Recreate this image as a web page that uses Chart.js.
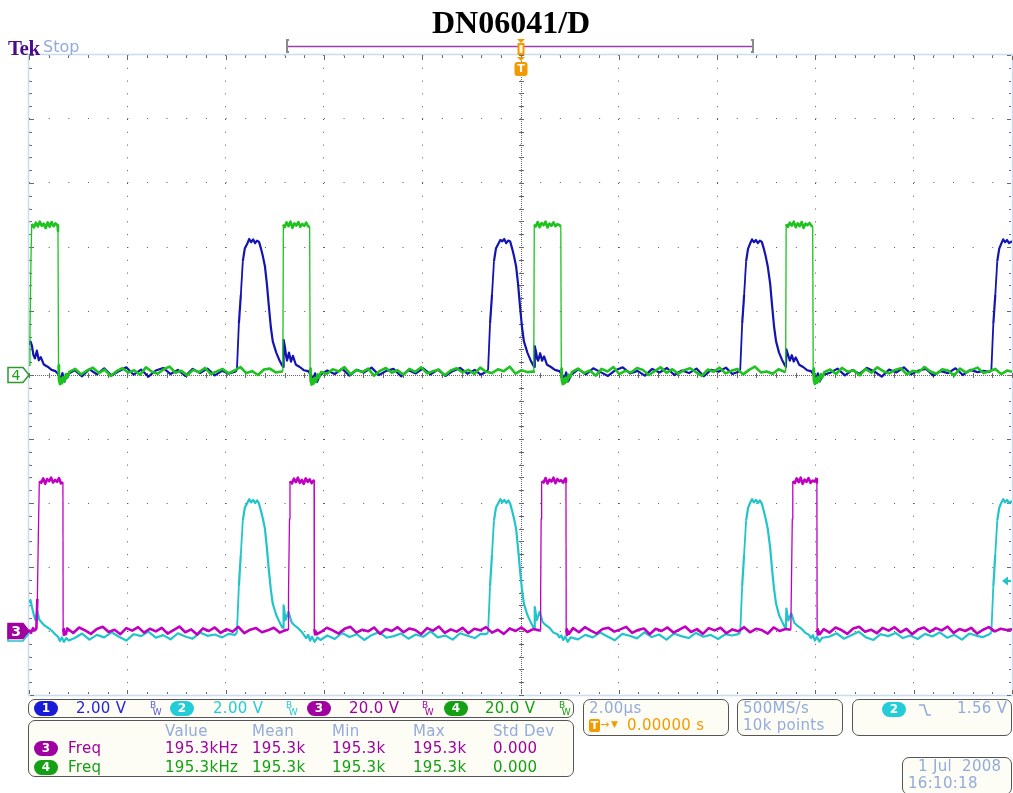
<!DOCTYPE html>
<html><head><meta charset="utf-8">
<script src="https://cdn.jsdelivr.net/npm/chart.js@4.4.1/dist/chart.umd.min.js"></script>
<style>
html,body{margin:0;padding:0;background:#fff;}
#wrap{position:relative;width:1013px;height:793px;overflow:hidden;background:#fff;font-family:"DejaVu Sans",sans-serif;}
#c{position:absolute;left:0;top:0;}
.t{position:absolute;white-space:pre;line-height:1;font-size:15px;font-family:"DejaVu Sans",sans-serif;letter-spacing:0.3px;}
.box{position:absolute;border:1.5px solid #555;border-radius:7px;background:#fdfdf6;box-sizing:border-box;}
.badge{position:absolute;width:24px;height:15px;border-radius:8px;color:#fff;font:bold 12px "DejaVu Sans",sans-serif;text-align:center;line-height:15px;}
.bw{position:absolute;font-size:9px;line-height:7px;font-family:"DejaVu Sans",sans-serif;}
.lbl{color:#93abdb;}
.pur{color:#a000a0;}
.grn{color:#14a014;}
</style></head>
<body>
<div id="wrap">
<canvas id="c" width="1013" height="793"></canvas>

<div class="t" style="left:432px;top:4px;font:bold 32px 'Liberation Serif',serif;color:#000;letter-spacing:0;">DN06041/D</div>
<div class="t" style="left:8px;top:36px;font:bold 21px 'Liberation Serif',serif;color:#4b0c8c;letter-spacing:-0.5px;">Tek</div>
<div class="t lbl" style="left:43px;top:39px;font-size:16px;letter-spacing:0;">Stop</div>

<!-- channel readout -->
<div class="box" style="left:28px;top:699px;width:546px;height:19px;"></div>
<div class="badge" style="left:34px;top:701px;background:#1a1ad6;">1</div>
<div class="t" style="left:76px;top:701px;color:#2424e0;">2.00 V</div>
<div class="bw" style="left:150px;top:702px;color:#5a5ad8;">B<br>&nbsp;W</div>
<div class="badge" style="left:170px;top:701px;background:#22cdd8;">2</div>
<div class="t" style="left:213px;top:701px;color:#22ccd8;">2.00 V</div>
<div class="bw" style="left:286px;top:702px;color:#22ccd8;">B<br>&nbsp;W</div>
<div class="badge" style="left:307px;top:701px;background:#a000a0;">3</div>
<div class="t pur" style="left:349px;top:701px;">20.0 V</div>
<div class="bw pur" style="left:422px;top:702px;">B<br>&nbsp;W</div>
<div class="badge" style="left:444px;top:701px;background:#14a014;">4</div>
<div class="t grn" style="left:485px;top:701px;">20.0 V</div>
<div class="bw grn" style="left:559px;top:702px;">B<br>&nbsp;W</div>

<!-- measurements -->
<div class="box" style="left:28px;top:720px;width:546px;height:57px;"></div>
<div class="t lbl" style="left:165px;top:724px;">Value</div>
<div class="t lbl" style="left:252px;top:724px;">Mean</div>
<div class="t lbl" style="left:332px;top:724px;">Min</div>
<div class="t lbl" style="left:413px;top:724px;">Max</div>
<div class="t lbl" style="left:493px;top:724px;">Std Dev</div>
<div class="badge" style="left:34px;top:741px;background:#a000a0;">3</div>
<div class="t pur" style="left:68px;top:741px;">Freq</div>
<div class="t pur" style="left:165px;top:741px;">195.3kHz</div>
<div class="t pur" style="left:252px;top:741px;">195.3k</div>
<div class="t pur" style="left:332px;top:741px;">195.3k</div>
<div class="t pur" style="left:413px;top:741px;">195.3k</div>
<div class="t pur" style="left:493px;top:741px;">0.000</div>
<div class="badge" style="left:34px;top:760px;background:#14a014;">4</div>
<div class="t grn" style="left:68px;top:760px;">Freq</div>
<div class="t grn" style="left:165px;top:760px;">195.3kHz</div>
<div class="t grn" style="left:252px;top:760px;">195.3k</div>
<div class="t grn" style="left:332px;top:760px;">195.3k</div>
<div class="t grn" style="left:413px;top:760px;">195.3k</div>
<div class="t grn" style="left:493px;top:760px;">0.000</div>

<!-- timebase -->
<div class="box" style="left:583px;top:699px;width:146px;height:37px;"></div>
<div class="t lbl" style="left:589px;top:701px;">2.00µs</div>
<div style="position:absolute;left:589px;top:719px;width:11px;height:13px;background:#f39a00;border-radius:2px;color:#fff;font:bold 11px 'DejaVu Sans',sans-serif;text-align:center;line-height:13px;">T</div>
<div class="t" style="left:600px;top:719px;color:#f39a00;font-size:11px;">→</div>
<div class="t" style="left:611px;top:720px;color:#f39a00;font-size:9px;">▼</div>
<div class="t" style="left:627px;top:718px;color:#f39a00;">0.00000 s</div>

<!-- acquisition -->
<div class="box" style="left:737px;top:699px;width:106px;height:37px;"></div>
<div class="t lbl" style="left:743px;top:701px;">500MS/s</div>
<div class="t lbl" style="left:743px;top:718px;">10k points</div>

<!-- trigger -->
<div class="box" style="left:852px;top:699px;width:160px;height:37px;"></div>
<div class="badge" style="left:882px;top:702px;background:#22cdd8;">2</div>
<svg style="position:absolute;left:918px;top:703px;" width="14" height="14"><path d="M1 2 H6 L9 12 H13" fill="none" stroke="#93abdb" stroke-width="1.6"/></svg>
<div class="t lbl" style="left:957px;top:701px;">1.56 V</div>

<!-- date -->
<div class="box" style="left:902px;top:757px;width:110px;height:38px;"></div>
<div class="t lbl" style="left:918px;top:759px;">1 Jul  2008</div>
<div class="t lbl" style="left:908px;top:776px;">16:10:18</div>
</div>

<script>
// ---- scope settings ----
const timePerDiv = 2;            // µs / div
const divisions = 10;
const ch1VoltsPerDiv = 2, ch2VoltsPerDiv = 2, ch3VoltsPerDiv = 20, ch4VoltsPerDiv = 20;
const ch1GroundDiv = 0, ch2GroundDiv = -4, ch3GroundDiv = -4, ch4GroundDiv = 0;
const trigLevelCh2 = 1.56;       // V

// ---- traces: [time µs, volts] ----
const ch1Trace = [
[-10.00,0.95],[-9.97,1.05],[-9.94,0.92],[-9.91,0.62],[-9.88,0.52],[-9.84,0.76],[-9.80,0.46],[-9.76,0.56],[-9.70,0.33],[-9.62,0.26],[-9.54,0.16],[-9.46,0.12],[-9.40,0.02],[-9.36,-0.14],[-9.32,0.06],[-9.28,-0.21],[-9.22,0.02],
[-9.07,0.15],[-8.92,-0.04],[-8.77,0.18],[-8.62,0.02],[-8.47,0.21],[-8.32,-0.02],[-8.17,0.12],[-8.02,0.24],[-7.87,0.01],[-7.72,0.17],[-7.57,-0.05],[-7.42,0.14],[-7.27,0.22],[-7.12,0.03],[-6.97,0.16],[-6.82,-0.03],[-6.67,0.19],[-6.52,0.06],[-6.37,0.2],[-6.22,-0.01],[-6.07,0.13],[-5.94,0.04],[-5.81,0.1],
[-5.77,0.15],[-5.73,1.6],[-5.69,2.5],[-5.65,3.55],[-5.61,3.95],[-5.56,4.1],[-5.52,4.25],[-5.48,4.15],[-5.44,4.24],[-5.40,4.12],[-5.36,4.2],[-5.32,4.16],[-5.28,3.95],[-5.24,3.7],[-5.20,3.4],[-5.16,2.85],[-5.12,2.15],[-5.08,1.5],[-5.04,1.05],[-4.97,0.7],[-4.91,0.48],[-4.85,0.3],[-4.83,0.25],[-4.82,1.1],[-4.79,0.85],[-4.77,0.6],[-4.75,0.45],[-4.71,0.7],[-4.67,0.42],[-4.63,0.6],[-4.57,0.32],[-4.49,0.25],[-4.41,0.15],[-4.32,0.12],[-4.26,0.0],[-4.22,-0.15],[-4.18,0.05],[-4.14,-0.22],[-4.08,0.0],
[-3.93,0.14],[-3.78,0.03],[-3.63,0.2],[-3.48,-0.02],[-3.33,0.16],[-3.18,0.08],[-3.03,0.23],[-2.88,0.0],[-2.73,0.13],[-2.58,0.19],[-2.43,-0.04],[-2.28,0.15],[-2.13,0.05],[-1.98,0.21],[-1.83,0.02],[-1.68,0.17],[-1.53,-0.03],[-1.38,0.12],[-1.23,0.22],[-1.08,0.04],[-0.93,0.16],[-0.81,0.01],[-0.70,0.1],
[-0.66,0.15],[-0.62,1.6],[-0.58,2.5],[-0.54,3.55],[-0.50,3.95],[-0.45,4.1],[-0.41,4.22],[-0.37,4.18],[-0.33,4.25],[-0.29,4.12],[-0.25,4.2],[-0.21,4.17],[-0.17,3.95],[-0.13,3.7],[-0.09,3.4],[-0.05,2.85],[-0.01,2.15],[0.03,1.5],[0.07,1.05],[0.14,0.7],[0.20,0.48],[0.26,0.3],[0.28,0.25],[0.29,0.9],[0.32,0.7],[0.34,0.5],[0.36,0.45],[0.40,0.68],[0.44,0.45],[0.48,0.58],[0.54,0.32],[0.62,0.25],[0.70,0.16],[0.79,0.12],[0.85,0.0],[0.89,-0.12],[0.93,0.08],[0.97,-0.2],[1.03,0.0],
[1.18,0.18],[1.33,0.02],[1.48,0.21],[1.63,0.09],[1.78,-0.03],[1.93,0.15],[2.08,0.24],[2.23,0.05],[2.38,0.13],[2.53,-0.02],[2.68,0.19],[2.83,0.08],[2.98,0.22],[3.13,0.0],[3.28,0.14],[3.43,0.06],[3.58,0.2],[3.73,-0.04],[3.88,0.16],[4.03,0.1],[4.18,0.23],[4.31,0.03],[4.43,0.1],
[4.47,0.15],[4.51,1.6],[4.55,2.5],[4.59,3.55],[4.63,3.95],[4.67,4.1],[4.71,4.24],[4.75,4.15],[4.79,4.22],[4.83,4.12],[4.87,4.2],[4.91,4.16],[4.95,3.95],[4.99,3.7],[5.03,3.4],[5.08,2.85],[5.12,2.15],[5.16,1.5],[5.20,1.05],[5.26,0.7],[5.32,0.48],[5.38,0.3],[5.40,0.25],[5.41,0.8],[5.44,0.65],[5.46,0.55],[5.48,0.45],[5.52,0.62],[5.56,0.42],[5.60,0.55],[5.67,0.32],[5.75,0.25],[5.83,0.15],[5.91,0.12],[5.97,0.0],[6.01,-0.15],[6.05,0.05],[6.09,-0.2],[6.15,0.0],
[6.30,0.07],[6.45,0.2],[6.60,-0.01],[6.75,0.15],[6.90,0.04],[7.05,0.22],[7.20,0.11],[7.35,-0.05],[7.50,0.17],[7.65,0.08],[7.80,0.24],[7.95,0.02],[8.10,0.14],[8.25,0.19],[8.40,-0.02],[8.55,0.12],[8.70,0.06],[8.85,0.21],[9.00,0.0],[9.15,0.16],[9.30,0.09],[9.42,0.13],[9.54,0.1],
[9.58,0.15],[9.62,1.6],[9.66,2.5],[9.70,3.55],[9.74,3.95],[9.78,4.1],[9.82,4.24],[9.86,4.15],[9.90,4.22],[9.94,4.12],[10.00,4.18]
];

const ch2Trace = [
[-10.00,0.88],[-9.97,0.97],[-9.94,0.75],[-9.90,0.5],[-9.87,0.34],[-9.83,0.62],[-9.79,0.35],[-9.75,0.28],[-9.69,0.18],[-9.61,0.1],[-9.53,0.0],[-9.47,-0.1],[-9.41,-0.18],[-9.37,-0.31],[-9.33,-0.2],[-9.29,-0.34],[-9.24,-0.22],[-9.19,-0.3],
[-9.07,-0.22],[-8.92,-0.08],[-8.77,-0.27],[-8.62,-0.12],[-8.47,-0.2],[-8.32,-0.04],[-8.17,-0.18],[-8.02,-0.3],[-7.87,-0.1],[-7.72,-0.16],[-7.57,-0.02],[-7.42,-0.21],[-7.27,-0.13],[-7.12,-0.26],[-6.97,-0.07],[-6.82,-0.17],[-6.67,-0.24],[-6.52,-0.05],[-6.37,-0.15],[-6.22,-0.11],[-6.07,-0.2],[-5.94,-0.09],[-5.81,-0.12],
[-5.77,-0.05],[-5.73,1.4],[-5.69,2.4],[-5.65,3.45],[-5.61,3.85],[-5.56,4.0],[-5.52,4.12],[-5.48,4.02],[-5.44,4.1],[-5.40,4.0],[-5.36,4.08],[-5.32,3.98],[-5.28,3.75],[-5.24,3.5],[-5.20,3.2],[-5.16,2.6],[-5.12,1.9],[-5.08,1.3],[-5.04,0.85],[-4.97,0.5],[-4.91,0.3],[-4.85,0.12],[-4.83,0.1],[-4.82,0.8],[-4.78,0.35],[-4.72,0.6],[-4.66,0.28],[-4.60,0.18],[-4.52,0.08],[-4.44,-0.05],[-4.36,-0.22],[-4.32,-0.12],[-4.28,-0.3],[-4.24,-0.18],[-4.19,-0.34],[-4.13,-0.2],[-4.07,-0.28],
[-3.93,-0.14],[-3.78,-0.25],[-3.63,-0.06],[-3.48,-0.19],[-3.33,-0.1],[-3.18,-0.28],[-3.03,-0.13],[-2.88,-0.03],[-2.73,-0.21],[-2.58,-0.16],[-2.43,-0.08],[-2.28,-0.24],[-2.13,-0.11],[-1.98,-0.18],[-1.83,-0.01],[-1.68,-0.2],[-1.53,-0.14],[-1.38,-0.27],[-1.23,-0.07],[-1.08,-0.15],[-0.93,-0.22],[-0.81,-0.09],[-0.70,-0.1],
[-0.66,-0.05],[-0.62,1.4],[-0.58,2.4],[-0.54,3.45],[-0.50,3.85],[-0.45,4.0],[-0.41,4.12],[-0.37,4.02],[-0.33,4.1],[-0.29,4.0],[-0.25,4.08],[-0.21,3.98],[-0.17,3.75],[-0.13,3.5],[-0.09,3.2],[-0.05,2.6],[-0.01,1.9],[0.03,1.3],[0.07,0.85],[0.14,0.5],[0.20,0.3],[0.26,0.12],[0.28,0.1],[0.29,0.75],[0.33,0.34],[0.39,0.6],[0.45,0.28],[0.51,0.19],[0.59,0.1],[0.67,-0.05],[0.75,-0.1],[0.79,-0.2],[0.83,-0.14],[0.87,-0.28],[0.91,-0.17],[0.96,-0.34],[1.02,-0.2],
[1.17,-0.26],[1.32,-0.12],[1.47,-0.2],[1.62,-0.05],[1.77,-0.17],[1.92,-0.29],[2.07,-0.09],[2.22,-0.15],[2.37,-0.23],[2.52,-0.04],[2.67,-0.19],[2.82,-0.11],[2.97,-0.27],[3.12,-0.08],[3.27,-0.16],[3.42,-0.22],[3.57,-0.06],[3.72,-0.18],[3.87,-0.12],[4.02,-0.25],[4.17,-0.1],[4.30,-0.14],[4.43,-0.1],
[4.47,-0.05],[4.51,1.4],[4.55,2.4],[4.59,3.45],[4.63,3.85],[4.67,4.0],[4.71,4.12],[4.75,4.02],[4.79,4.1],[4.83,4.0],[4.87,4.08],[4.91,3.98],[4.95,3.75],[4.99,3.5],[5.03,3.2],[5.08,2.6],[5.12,1.9],[5.16,1.3],[5.20,0.85],[5.26,0.5],[5.32,0.3],[5.38,0.12],[5.40,0.1],[5.41,0.7],[5.45,0.33],[5.51,0.55],[5.57,0.26],[5.63,0.17],[5.71,0.08],[5.79,-0.05],[5.87,-0.12],[5.91,-0.22],[5.95,-0.13],[5.99,-0.3],[6.03,-0.18],[6.08,-0.33],[6.14,-0.21],
[6.28,-0.18],[6.43,-0.07],[6.58,-0.24],[6.73,-0.13],[6.88,-0.02],[7.03,-0.2],[7.18,-0.28],[7.33,-0.1],[7.48,-0.16],[7.63,-0.06],[7.78,-0.22],[7.93,-0.14],[8.08,-0.25],[8.23,-0.09],[8.38,-0.17],[8.53,-0.04],[8.68,-0.21],[8.83,-0.12],[8.98,-0.27],[9.13,-0.08],[9.28,-0.15],[9.41,-0.19],[9.54,-0.1],
[9.58,-0.05],[9.62,1.4],[9.66,2.4],[9.70,3.45],[9.74,3.85],[9.78,4.0],[9.82,4.12],[9.86,4.02],[9.90,4.1],[9.94,4.0],[10.00,4.06]
];

const ch3Trace = [
[-10.00,0.4],[-9.96,-0.6],[-9.92,0.9],[-9.88,0.2],[-9.85,0.8],[-9.83,10.0],[-9.81,30.0],[-9.79,46.8],
[-9.75,46.3],[-9.71,47.7],[-9.67,46.0],[-9.63,47.5],[-9.59,46.8],[-9.55,47.9],[-9.51,46.4],[-9.47,47.2],[-9.43,46.6],[-9.39,47.8],[-9.35,46.1],
[-9.31,46.5],[-9.305,0.6],[-9.29,-1.2],[-9.27,-0.3],[-9.25,-1.0],
[-9.22,0.8],[-9.10,-0.6],[-8.98,1.1],[-8.86,0.2],[-8.74,-0.9],[-8.62,0.6],[-8.50,1.3],[-8.38,-0.3],[-8.26,0.4],[-8.14,-1.0],[-8.02,0.9],[-7.90,0.1],[-7.78,1.2],[-7.66,-0.5],[-7.54,0.7],[-7.42,-0.1],[-7.30,1.0],[-7.18,-0.8],[-7.06,0.3],[-6.94,1.4],[-6.82,-0.4],[-6.70,0.5],[-6.58,-1.1],[-6.46,0.8],[-6.34,0.0],[-6.22,1.1],[-6.10,-0.6],[-5.98,0.6],[-5.86,-0.2],[-5.74,1.3],[-5.62,-0.7],[-5.50,0.4],[-5.38,0.9],[-5.26,-0.4],[-5.14,0.2],[-5.02,1.0],[-4.90,-0.5],[-4.78,0.3],
[-4.73,0.4],[-4.72,12.0],[-4.70,35.0],[-4.69,46.8],
[-4.65,46.1],[-4.61,47.6],[-4.57,46.5],[-4.53,47.9],[-4.49,46.3],[-4.45,47.2],[-4.41,46.0],[-4.37,47.7],[-4.33,46.6],[-4.29,47.4],[-4.25,46.2],[-4.21,47.0],
[-4.20,46.5],[-4.195,0.6],[-4.18,-1.1],[-4.16,-0.2],[-4.14,-1.0],
[-4.06,-0.3],[-3.94,1.0],[-3.82,0.2],[-3.70,-0.8],[-3.58,0.7],[-3.46,1.3],[-3.34,-0.5],[-3.22,0.4],[-3.10,-0.1],[-2.98,1.1],[-2.86,-0.9],[-2.74,0.6],[-2.62,0.0],[-2.50,1.2],[-2.38,-0.4],[-2.26,0.8],[-2.14,0.3],[-2.02,-1.0],[-1.90,0.9],[-1.78,0.1],[-1.66,1.4],[-1.54,-0.6],[-1.42,0.5],[-1.30,-0.2],[-1.18,1.0],[-1.06,-0.7],[-0.94,0.7],[-0.82,0.2],[-0.70,1.2],[-0.58,-0.5],[-0.46,0.4],[-0.34,-0.9],[-0.22,0.8],[-0.10,0.0],[0.02,1.1],[0.14,-0.3],[0.26,0.6],[0.38,0.2],
[0.40,0.3],[0.41,12.0],[0.42,35.0],[0.43,46.8],
[0.47,46.4],[0.51,47.8],[0.55,46.1],[0.59,47.3],[0.63,46.7],[0.67,47.9],[0.71,46.2],[0.75,47.5],[0.79,46.8],[0.83,47.1],[0.87,46.4],[0.91,47.6],
[0.925,46.6],[0.93,0.5],[0.945,-1.2],[0.965,-0.1],[0.985,-0.9],
[1.07,0.9],[1.19,-0.4],[1.31,1.2],[1.43,0.1],[1.55,-0.8],[1.67,0.6],[1.79,1.0],[1.91,-0.2],[2.03,0.5],[2.15,1.3],[2.27,-0.6],[2.39,0.3],[2.51,0.8],[2.63,-1.0],[2.75,0.7],[2.87,0.0],[2.99,1.1],[3.11,-0.5],[3.23,0.4],[3.35,1.4],[3.47,-0.3],[3.59,0.6],[3.71,-0.9],[3.83,0.9],[3.95,0.2],[4.07,1.0],[4.19,-0.7],[4.31,0.5],[4.43,-0.1],[4.55,1.2],[4.67,-0.4],[4.79,0.7],[4.91,0.3],[5.03,-0.8],[5.15,1.1],[5.27,0.0],[5.39,0.6],
[5.50,0.4],[5.51,12.0],[5.53,35.0],[5.54,46.8],
[5.58,46.2],[5.62,47.7],[5.66,46.5],[5.70,47.9],[5.74,46.0],[5.78,47.3],[5.82,46.6],[5.86,47.8],[5.90,46.3],[5.94,47.0],[5.98,46.7],[6.02,47.5],
[6.03,46.4],[6.035,0.5],[6.05,-1.1],[6.07,-0.2],[6.09,-1.0],
[6.17,0.6],[6.29,-0.5],[6.41,1.1],[6.53,0.3],[6.65,-0.9],[6.77,0.8],[6.89,1.3],[7.01,-0.2],[7.13,0.4],[7.25,-0.7],[7.37,1.0],[7.49,0.1],[7.61,1.2],[7.73,-0.4],[7.85,0.7],[7.97,-1.0],[8.09,0.5],[8.21,1.1],[8.33,-0.3],[8.45,0.9],[8.57,0.2],[8.69,1.4],[8.81,-0.6],[8.93,0.6],[9.05,0.0],[9.17,1.0],[9.29,-0.8],[9.41,0.4],[9.53,1.2],[9.65,-0.1],[9.77,0.7],[9.89,0.3],[10.00,0.5]
];

const ch4Trace = [
[-10.00,3.0],[-9.98,14.0],[-9.96,36.0],[-9.945,47.2],
[-9.90,46.1],[-9.86,47.6],[-9.82,46.4],[-9.78,47.9],[-9.74,46.6],[-9.70,47.3],[-9.66,45.9],[-9.62,47.7],[-9.58,46.3],[-9.54,47.8],[-9.50,46.5],[-9.46,47.4],[-9.42,46.8],
[-9.41,45.0],[-9.40,3.0],[-9.39,-1.6],[-9.37,-2.9],[-9.35,-1.1],[-9.33,-2.6],[-9.31,-0.7],[-9.28,-2.0],[-9.25,0.3],[-9.22,-0.8],[-9.18,1.0],
[-9.06,1.9],[-8.94,0.2],[-8.82,1.4],[-8.70,2.3],[-8.58,0.6],[-8.46,1.7],[-8.34,-0.3],[-8.22,1.2],[-8.10,2.1],[-7.98,0.8],[-7.86,1.5],[-7.74,0.1],[-7.62,2.4],[-7.50,1.0],[-7.38,0.4],[-7.26,1.8],[-7.14,2.6],[-7.02,0.7],[-6.90,1.3],[-6.78,-0.1],[-6.66,1.6],[-6.54,0.9],[-6.42,2.2],[-6.30,0.3],[-6.18,1.1],[-6.06,1.9],[-5.94,0.5],[-5.82,1.4],[-5.70,2.5],[-5.58,0.6],[-5.46,1.2],[-5.34,0.0],[-5.22,1.7],[-5.10,2.0],[-4.98,0.8],[-4.86,1.1],
[-4.835,1.2],[-4.825,47.0],
[-4.80,46.2],[-4.76,47.7],[-4.72,46.5],[-4.68,47.9],[-4.64,46.0],[-4.60,47.4],[-4.56,46.7],[-4.52,47.8],[-4.48,46.3],[-4.44,47.2],[-4.40,46.6],[-4.36,47.6],[-4.32,46.4],
[-4.29,46.5],[-4.28,2.0],[-4.27,-1.8],[-4.25,-3.0],[-4.23,-1.3],[-4.21,-2.7],[-4.19,-0.9],[-4.16,-2.2],[-4.13,0.2],[-4.10,-0.9],[-4.06,0.9],
[-3.94,0.4],[-3.82,1.8],[-3.70,1.1],[-3.58,2.5],[-3.46,0.2],[-3.34,1.6],[-3.22,0.9],[-3.10,2.0],[-2.98,-0.2],[-2.86,1.3],[-2.74,2.2],[-2.62,0.7],[-2.50,1.5],[-2.38,0.1],[-2.26,1.9],[-2.14,1.0],[-2.02,2.4],[-1.90,0.5],[-1.78,1.2],[-1.66,1.7],[-1.54,-0.1],[-1.42,1.4],[-1.30,2.1],[-1.18,0.8],[-1.06,1.6],[-0.94,0.3],[-0.82,2.3],[-0.70,1.0],[-0.58,0.6],[-0.46,1.8],[-0.34,1.2],[-0.22,2.6],[-0.10,0.4],[0.02,1.5],[0.14,0.9],[0.26,1.1],
[0.27,1.0],[0.28,47.0],
[0.31,46.4],[0.35,47.8],[0.39,46.2],[0.43,47.5],[0.47,46.8],[0.51,47.9],[0.55,46.1],[0.59,47.3],[0.63,46.6],[0.67,47.7],[0.71,46.5],[0.75,47.1],[0.79,46.9],
[0.82,46.4],[0.83,2.0],[0.84,-1.7],[0.86,-2.9],[0.88,-1.2],[0.90,-2.6],[0.92,-0.8],[0.95,-2.1],[0.98,0.1],[1.01,-0.7],[1.05,1.0],
[1.17,2.0],[1.29,0.6],[1.41,1.4],[1.53,-0.2],[1.65,1.9],[1.77,1.1],[1.89,2.5],[2.01,0.3],[2.13,1.3],[2.25,0.8],[2.37,2.2],[2.49,1.6],[2.61,0.0],[2.73,1.2],[2.85,2.4],[2.97,0.7],[3.09,1.8],[3.21,0.4],[3.33,1.5],[3.45,2.1],[3.57,0.9],[3.69,-0.3],[3.81,1.7],[3.93,1.0],[4.05,2.3],[4.17,0.5],[4.29,1.3],[4.41,1.9],[4.53,0.2],[4.65,1.6],[4.77,2.6],[4.89,0.8],[5.01,1.1],[5.13,0.4],[5.25,1.8],[5.37,1.0],
[5.395,1.1],[5.405,47.1],
[5.44,46.3],[5.48,47.6],[5.52,46.7],[5.56,47.9],[5.60,46.2],[5.64,47.4],[5.68,46.5],[5.72,47.8],[5.76,46.0],[5.80,47.3],[5.84,46.8],[5.88,47.5],[5.92,46.6],
[5.945,46.5],[5.955,2.0],[5.97,-1.9],[5.99,-2.8],[6.01,-1.0],[6.03,-2.5],[6.05,-0.6],[6.08,-2.0],[6.11,0.3],[6.14,-0.8],[6.18,0.9],
[6.30,1.7],[6.42,0.3],[6.54,2.2],[6.66,1.0],[6.78,1.5],[6.90,-0.1],[7.02,1.9],[7.14,0.7],[7.26,2.4],[7.38,1.2],[7.50,0.5],[7.62,1.6],[7.74,2.1],[7.86,0.2],[7.98,1.3],[8.10,0.9],[8.22,2.5],[8.34,1.1],[8.46,0.4],[8.58,1.8],[8.70,1.4],[8.82,-0.2],[8.94,2.0],[9.06,0.8],[9.18,1.6],[9.30,2.3],[9.42,0.6],[9.54,1.2],[9.66,1.9],[9.78,0.3],[9.90,1.4],[10.00,1.0]
];

const COL1 = '#1414b2', COL2 = '#22c4cc', COL3 = '#c000c0', COL4 = '#1ec31e';

const toXY = arr => arr.map(([t, v]) => ({x: t, y: v}));
const axisFor = (vpd, groundDiv) => ({
  type: 'linear', display: false,
  min: (-divisions / 2 - groundDiv) * vpd,
  max: (divisions / 2 - groundDiv) * vpd
});
// thinner strokes on fast edges, thicker on the noisy flat parts
const edgeWidth = (vpd, flat, edge) => ({
  borderWidth: c => Math.abs(c.p1.parsed.y - c.p0.parsed.y) > vpd * 0.5 ? edge : flat
});

function pentagon(ctx, x0, yc, fill, stroke) {
  ctx.beginPath();
  ctx.moveTo(x0, yc - 7.5);
  ctx.lineTo(x0 + 15, yc - 7.5);
  ctx.lineTo(x0 + 21, yc);
  ctx.lineTo(x0 + 15, yc + 7.5);
  ctx.lineTo(x0, yc + 7.5);
  ctx.closePath();
  ctx.fillStyle = fill; ctx.fill();
  ctx.lineWidth = 1.5; ctx.strokeStyle = stroke; ctx.stroke();
}

const graticule = {
  id: 'graticule',
  beforeDatasetsDraw(chart) {
    const {ctx, chartArea: a, scales: {x, yg}} = chart;
    ctx.save();
    ctx.strokeStyle = '#cadcf0'; ctx.lineWidth = 1.5;
    ctx.strokeRect(a.left - 0.5, a.top - 0.5, a.right - a.left + 1, a.bottom - a.top + 1);
    const cx = Math.round(x.getPixelForValue(0));
    const cy = Math.round(yg.getPixelForValue(0));
    ctx.fillStyle = '#6a6a6a';
    const n = divisions * 5;
    for (let i = 0; i <= n; i++) {
      const px = Math.round(x.getPixelForValue(x.min + i * (x.max - x.min) / n));
      const len = i % 5 === 0 ? 4 : 2;
      ctx.fillRect(px, a.top + 1, 1, len);
      ctx.fillRect(px, a.bottom - 1 - len, 1, len);
      ctx.fillRect(px, cy - 2, 1, 5);
    }
    for (let i = 0; i <= n; i++) {
      const py = Math.round(yg.getPixelForValue(yg.min + i * (yg.max - yg.min) / n));
      const len = i % 5 === 0 ? 4 : 2;
      ctx.fillRect(a.left + 1, py, len, 1);
      ctx.fillRect(a.right - 1 - len, py, len, 1);
      ctx.fillRect(cx - 2, py, 5, 1);
    }
    for (let py = Math.round(a.top); py < a.bottom; py += 2) ctx.fillRect(cx, py, 1, 1);
    for (let px = Math.round(a.left); px < a.right; px += 2) ctx.fillRect(px, cy, 1, 1);
    ctx.restore();
  },
  afterDatasetsDraw(chart) {
    const {ctx, chartArea: a, scales: {x, y2, y3, y4}} = chart;
    ctx.save();
    const g4 = y4.getPixelForValue(0), g3 = y3.getPixelForValue(0);
    pentagon(ctx, 8, g3 + 2.5, '#ffffff', COL2);
    pentagon(ctx, 8, g3, '#a000a0', '#a000a0');
    pentagon(ctx, 8, g4, '#ffffff', '#2a9a2a');
    ctx.font = '14px "DejaVu Sans", sans-serif';
    ctx.textAlign = 'center'; ctx.textBaseline = 'middle';
    ctx.fillStyle = '#1e9e1e'; ctx.fillText('4', 16, g4 + 1);
    ctx.font = 'bold 14px "DejaVu Sans", sans-serif';
    ctx.fillStyle = '#ffffff'; ctx.fillText('3', 16, g3 + 1);
    const tl = y2.getPixelForValue(trigLevelCh2);
    ctx.fillStyle = COL2;
    ctx.beginPath();
    ctx.moveTo(a.right - 10, tl); ctx.lineTo(a.right - 4, tl - 4.5); ctx.lineTo(a.right - 4, tl + 4.5); ctx.closePath(); ctx.fill();
    ctx.fillRect(a.right - 5, tl - 1, 4, 2);
    ctx.strokeStyle = '#8a8a8a'; ctx.lineWidth = 2;
    ctx.beginPath();
    ctx.moveTo(289, 40); ctx.lineTo(287, 40); ctx.lineTo(287, 52); ctx.lineTo(289, 52);
    ctx.moveTo(751, 40); ctx.lineTo(753, 40); ctx.lineTo(753, 52); ctx.lineTo(751, 52);
    ctx.stroke();
    ctx.strokeStyle = '#a040b0'; ctx.lineWidth = 1.5;
    ctx.beginPath(); ctx.moveTo(288, 46.5); ctx.lineTo(752, 46.5); ctx.stroke();
    const tx = Math.round(x.getPixelForValue(0));
    ctx.fillStyle = '#f39a00';
    ctx.beginPath(); ctx.moveTo(tx - 4, 39); ctx.lineTo(tx + 4, 39); ctx.lineTo(tx, 43); ctx.closePath(); ctx.fill();
    ctx.fillRect(tx - 3.5, 43, 7, 12);
    ctx.fillStyle = '#fff8e0'; ctx.fillRect(tx - 1.5, 45, 3, 8);
    ctx.fillStyle = '#f39a00';
    ctx.beginPath(); ctx.moveTo(tx - 4, 57); ctx.lineTo(tx + 4, 57); ctx.lineTo(tx, 61); ctx.closePath(); ctx.fill();
    ctx.beginPath(); ctx.roundRect(tx - 6.5, 62, 13, 14, 3); ctx.fill();
    ctx.fillStyle = '#ffffff'; ctx.font = 'bold 11px "DejaVu Sans", sans-serif';
    ctx.fillText('T', tx, 69.5);
    ctx.restore();
  }
};

const gridCommon = {color: '#555', lineWidth: 1, drawTicks: false};

new Chart(document.getElementById('c'), {
  type: 'line',
  data: {
    datasets: [
      {label: 'Ch4', data: toXY(ch4Trace), yAxisID: 'y4', borderColor: COL4, order: 0, segment: edgeWidth(ch4VoltsPerDiv, 2.6, 1.3)},
      {label: 'Ch3', data: toXY(ch3Trace), yAxisID: 'y3', borderColor: COL3, order: 1, segment: edgeWidth(ch3VoltsPerDiv, 2.6, 1.3)},
      {label: 'Ch2', data: toXY(ch2Trace), yAxisID: 'y2', borderColor: COL2, order: 2, segment: edgeWidth(ch2VoltsPerDiv, 2.2, 1.8)},
      {label: 'Ch1', data: toXY(ch1Trace), yAxisID: 'y1', borderColor: COL1, order: 3, segment: edgeWidth(ch1VoltsPerDiv, 2.2, 1.8)}
    ]
  },
  options: {
    responsive: false, animation: false, devicePixelRatio: 1,
    parsing: false, normalized: true, events: [],
    layout: {padding: {left: 29, top: 55, right: 1, bottom: 98}},
    elements: {point: {radius: 0, hoverRadius: 0}, line: {borderWidth: 2, tension: 0, borderJoinStyle: 'round', fill: false}},
    plugins: {legend: {display: false}, tooltip: {enabled: false}, title: {display: false}},
    scales: {
      x: {type: 'linear', position: 'bottom', min: -divisions / 2 * timePerDiv, max: divisions / 2 * timePerDiv,
          ticks: {display: false, stepSize: timePerDiv}, grid: gridCommon,
          border: {display: false, dash: [1, 11.8]}},
      yg: {type: 'linear', position: 'left', min: -divisions / 2, max: divisions / 2,
          ticks: {display: false, stepSize: 1}, grid: gridCommon,
          border: {display: false, dash: [1, 18.66]}},
      y1: axisFor(ch1VoltsPerDiv, ch1GroundDiv),
      y2: axisFor(ch2VoltsPerDiv, ch2GroundDiv),
      y3: axisFor(ch3VoltsPerDiv, ch3GroundDiv),
      y4: axisFor(ch4VoltsPerDiv, ch4GroundDiv)
    }
  },
  plugins: [graticule]
});
</script>
</body></html>
